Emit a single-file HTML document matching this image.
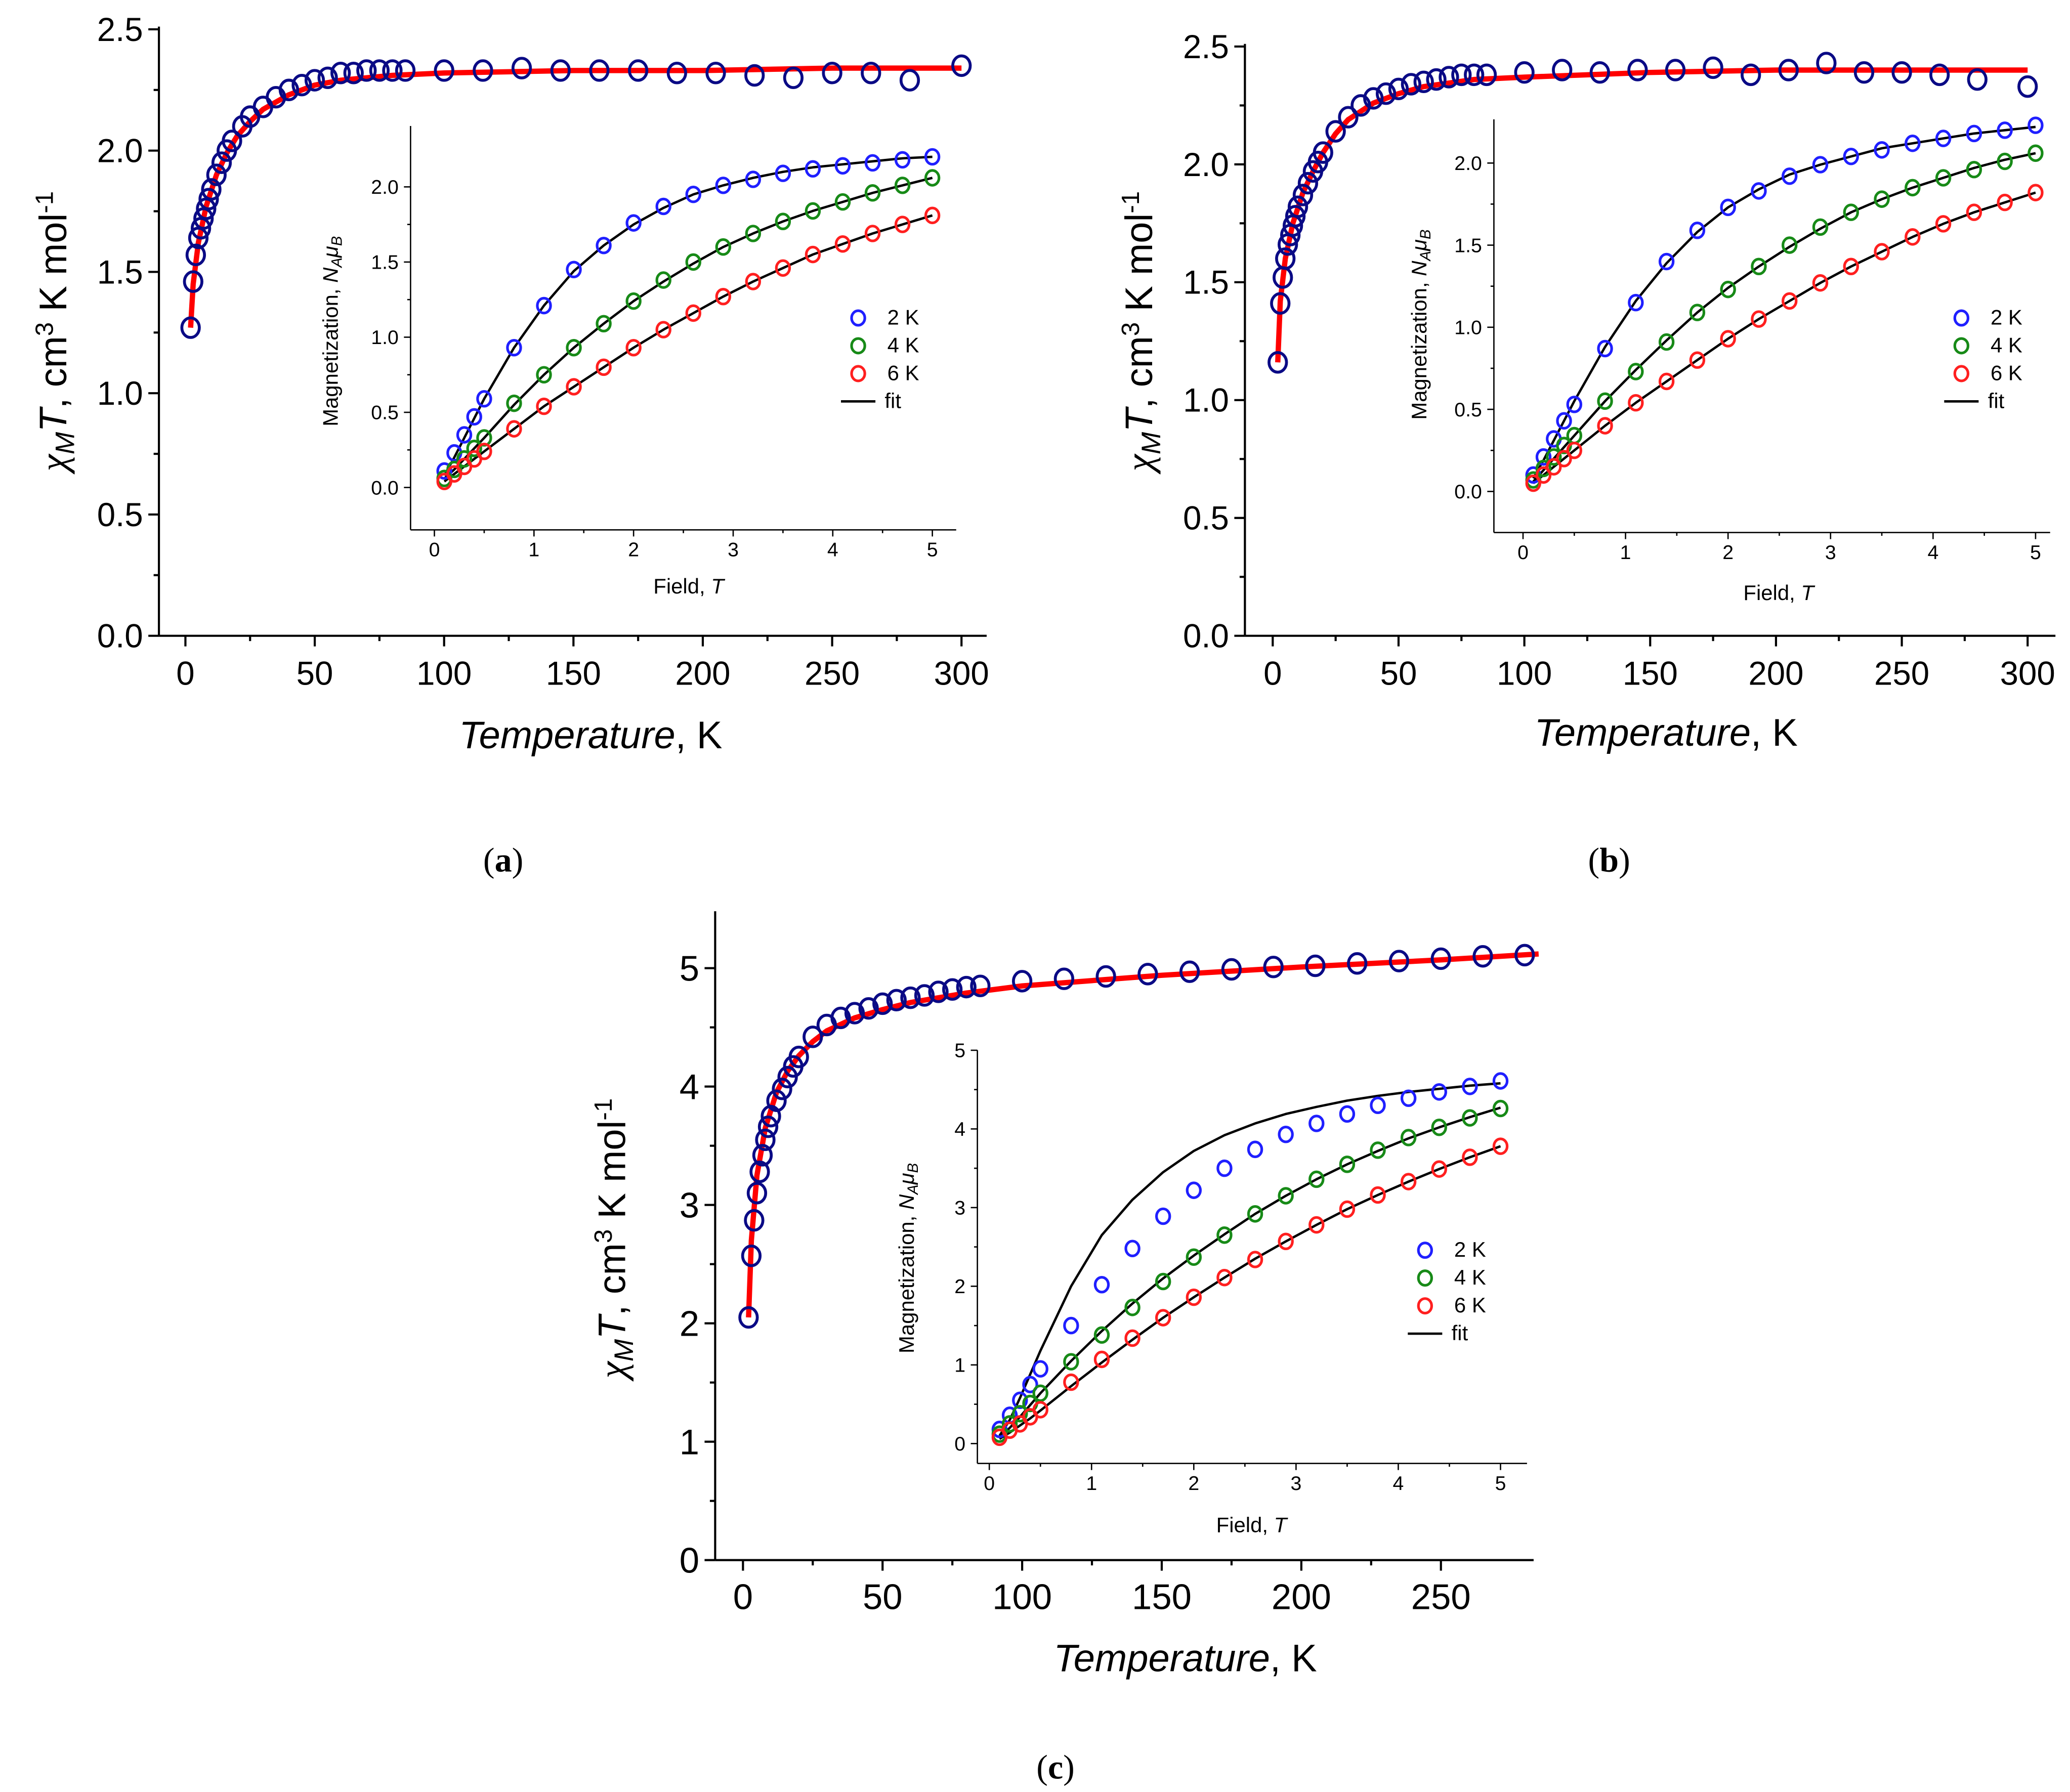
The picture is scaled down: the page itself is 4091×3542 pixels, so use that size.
<!DOCTYPE html>
<html><head><meta charset="utf-8"><style>html,body{margin:0;padding:0;background:#fff}svg{display:block}</style></head>
<body>
<svg id="fig" width="4091" height="3542" viewBox="0 0 1563 1353" xmlns="http://www.w3.org/2000/svg" font-family="Liberation Sans, sans-serif">
<rect width="1563" height="1353" fill="#fff"/>
<text x="380" y="658" font-family="Liberation Serif, serif" font-size="26" text-anchor="middle">(<tspan font-weight="bold">a</tspan>)</text>
<text x="1215" y="658" font-family="Liberation Serif, serif" font-size="26" text-anchor="middle">(<tspan font-weight="bold">b</tspan>)</text>
<text x="797" y="1343" font-family="Liberation Serif, serif" font-size="26" text-anchor="middle">(<tspan font-weight="bold">c</tspan>)</text>
</svg>
<script>
// ---- data ----
const tA=[2,3,4,5,6,7,8,9,10,12,14,16,18,22,25,30,35,40,45,50,55,60,65,70,75,80,85,100,115,130,145,160,175,190,205,220,235,250,265,280,300];
const chiA=[1.27,1.46,1.57,1.64,1.68,1.72,1.76,1.80,1.84,1.90,1.95,2.00,2.04,2.10,2.14,2.18,2.22,2.25,2.27,2.29,2.30,2.32,2.32,2.33,2.33,2.33,2.33,2.33,2.33,2.34,2.33,2.33,2.33,2.32,2.32,2.31,2.30,2.32,2.32,2.29,2.35];
const fitTA=[2,3,5,8,12,16,20,25,30,40,50,60,80,100,150,200,250,300];
const fitA=[1.27,1.45,1.62,1.77,1.90,1.99,2.06,2.12,2.17,2.23,2.27,2.29,2.31,2.32,2.33,2.33,2.34,2.34];
const tB=[2,3,4,5,6,7,8,9,10,12,14,16,18,20,25,30,35,40,45,50,55,60,65,70,75,80,85,100,115,130,145,160,175,190,205,220,235,250,265,280,300];
const chiB=[1.16,1.41,1.52,1.60,1.66,1.70,1.74,1.78,1.82,1.87,1.92,1.97,2.01,2.05,2.14,2.20,2.25,2.28,2.30,2.32,2.34,2.35,2.36,2.37,2.38,2.38,2.38,2.39,2.40,2.39,2.40,2.40,2.41,2.38,2.40,2.43,2.39,2.39,2.38,2.36,2.33];
const fitTB=[2,3,5,8,12,16,20,25,30,40,50,60,80,100,150,200,250,300];
const fitB=[1.16,1.42,1.60,1.75,1.88,1.97,2.05,2.13,2.19,2.26,2.30,2.33,2.36,2.37,2.39,2.40,2.40,2.40];
const tC=[2,3,4,5,6,7,8,9,10,12,14,16,18,20,25,30,35,40,45,50,55,60,65,70,75,80,85,100,115,130,145,160,175,190,205,220,235,250,265,280];
const chiC=[2.05,2.57,2.87,3.10,3.28,3.42,3.55,3.66,3.75,3.88,3.98,4.08,4.17,4.25,4.42,4.52,4.58,4.62,4.66,4.70,4.73,4.75,4.77,4.80,4.82,4.84,4.85,4.89,4.91,4.93,4.95,4.97,4.99,5.01,5.02,5.04,5.06,5.08,5.10,5.11];
const fitTC=[2,3,5,8,12,16,20,25,30,40,50,60,80,100,150,200,250,285];
const fitC=[2.05,2.70,3.25,3.65,3.95,4.13,4.26,4.38,4.47,4.58,4.65,4.71,4.79,4.85,4.94,5.01,5.07,5.12];
const fields=[0.1,0.2,0.3,0.4,0.5,0.8,1.1,1.4,1.7,2.0,2.3,2.6,2.9,3.2,3.5,3.8,4.1,4.4,4.7,5.0];
const mA2=[0.11,0.23,0.35,0.47,0.59,0.93,1.21,1.45,1.61,1.76,1.87,1.95,2.01,2.05,2.09,2.12,2.14,2.16,2.18,2.20];
const mA4=[0.06,0.12,0.19,0.26,0.33,0.56,0.75,0.93,1.09,1.24,1.38,1.50,1.60,1.69,1.77,1.84,1.90,1.96,2.01,2.06];
const mA6=[0.04,0.09,0.14,0.19,0.24,0.39,0.54,0.67,0.80,0.93,1.05,1.16,1.27,1.37,1.46,1.55,1.62,1.69,1.75,1.81];
const fA2=[0.08,0.20,0.33,0.46,0.59,0.93,1.21,1.44,1.61,1.75,1.86,1.95,2.01,2.06,2.10,2.13,2.15,2.17,2.19,2.20];
const fA4=[0.06,0.12,0.19,0.26,0.33,0.55,0.75,0.93,1.09,1.24,1.37,1.49,1.60,1.69,1.77,1.84,1.90,1.96,2.01,2.06];
const fA6=[0.04,0.09,0.14,0.19,0.24,0.39,0.54,0.67,0.80,0.93,1.05,1.16,1.27,1.37,1.46,1.55,1.62,1.69,1.75,1.81];
const mB2=[0.10,0.21,0.32,0.43,0.53,0.87,1.15,1.40,1.59,1.73,1.83,1.92,1.99,2.04,2.08,2.12,2.15,2.18,2.20,2.23];
const mB4=[0.07,0.14,0.21,0.28,0.34,0.55,0.73,0.91,1.09,1.23,1.37,1.50,1.61,1.70,1.78,1.85,1.91,1.96,2.01,2.06];
const mB6=[0.05,0.10,0.15,0.20,0.25,0.40,0.54,0.67,0.80,0.93,1.05,1.16,1.27,1.37,1.46,1.55,1.63,1.70,1.76,1.82];
const fB2=[0.08,0.19,0.31,0.43,0.55,0.88,1.16,1.39,1.58,1.73,1.84,1.93,1.99,2.04,2.09,2.12,2.15,2.18,2.20,2.22];
const fB4=[0.06,0.13,0.20,0.27,0.34,0.55,0.74,0.92,1.09,1.24,1.37,1.49,1.60,1.70,1.78,1.85,1.91,1.97,2.02,2.06];
const fB6=[0.05,0.10,0.15,0.20,0.25,0.40,0.54,0.67,0.80,0.93,1.05,1.16,1.27,1.37,1.46,1.55,1.63,1.70,1.76,1.82];
const mC2=[0.18,0.36,0.55,0.75,0.95,1.50,2.02,2.48,2.89,3.22,3.50,3.74,3.93,4.07,4.19,4.30,4.39,4.47,4.54,4.61];
const mC4=[0.12,0.25,0.38,0.51,0.64,1.04,1.38,1.73,2.06,2.37,2.65,2.92,3.15,3.36,3.55,3.73,3.89,4.02,4.14,4.26];
const mC6=[0.08,0.17,0.25,0.34,0.43,0.78,1.07,1.34,1.60,1.86,2.11,2.34,2.57,2.78,2.98,3.16,3.33,3.49,3.64,3.78];
const fC2=[0.10,0.30,0.58,0.88,1.18,2.00,2.65,3.10,3.45,3.72,3.92,4.07,4.19,4.28,4.36,4.42,4.47,4.51,4.55,4.58];
const fC4=[0.08,0.20,0.34,0.49,0.64,1.05,1.43,1.78,2.10,2.39,2.66,2.92,3.15,3.36,3.55,3.72,3.88,4.02,4.15,4.27];
const fC6=[0.06,0.14,0.23,0.32,0.42,0.73,1.03,1.32,1.60,1.86,2.11,2.35,2.57,2.78,2.98,3.16,3.33,3.49,3.64,3.78];
const ticksA=[0,0.5,1.0,1.5,2.0,2.5], ticksC=[0,1,2,3,4,5], ticksT=[0,50,100,150,200,250,300], ticksTC=[0,50,100,150,200,250];
const ticksMA=[0,0.5,1.0,1.5,2.0], ticksMC=[0,1,2,3,4,5], ticksF=[0,1,2,3,4,5];

const svg=document.getElementById('fig');const NS='http://www.w3.org/2000/svg';
function el(tag,attrs,parent){const e=document.createElementNS(NS,tag);for(const k in attrs)e.setAttribute(k,attrs[k]);(parent||svg).appendChild(e);return e;}
function txt(x,y,s,size,anchor,parent,name){const t=el('text',{x:x,y:y,'font-size':size,'text-anchor':anchor||'middle'},parent);t.textContent=s;

return t;}
function axes(o){
 const g=el('g',{});
 
 
 const X=v=>o.x0+(v-o.xmin)*o.xs, Y=v=>o.y0-(v-o.ymin)*o.ys;
 const lw=o.inset?1:1.6;
 el('line',{x1:o.L,y1:o.B,x2:o.R,y2:o.B,stroke:'#000','stroke-width':lw},g);
 el('line',{x1:o.L,y1:o.T,x2:o.L,y2:o.B,stroke:'#000','stroke-width':lw},g);
 const tl=o.inset?5:8;
 o.xt.forEach((v,i)=>{const x=X(v);el('line',{x1:x,y1:o.B,x2:x,y2:o.B+tl,stroke:'#000','stroke-width':lw},g);
  if(i<o.xt.length-1){const m=X(v+(o.xt[1]-o.xt[0])/2);if(m<o.R)el('line',{x1:m,y1:o.B,x2:m,y2:o.B+tl/2,stroke:'#000','stroke-width':lw},g);}
  txt(x,o.B+tl+(o.inset?15:29),o.xl?o.xl[i]:String(v),o.fs,'middle',g,'x-tick-label');});
 o.yt.forEach((v,i)=>{const y=Y(v);el('line',{x1:o.L-tl,y1:y,x2:o.L,y2:y,stroke:'#000','stroke-width':lw},g);
  if(i<o.yt.length-1){const m=Y(v+(o.yt[1]-o.yt[0])/2);el('line',{x1:o.L-tl/2,y1:m,x2:o.L,y2:m,stroke:'#000','stroke-width':lw},g);}
  txt(o.L-tl-4,y+o.fs*0.35,o.yl?o.yl[i]:String(v),o.fs,'end',g,'y-tick-label');});
 return {X,Y,g};
}
function line(ax,xs,ys,color,w,name){const d=xs.map((x,i)=>(i?'L':'M')+ax.X(x).toFixed(2)+','+ax.Y(ys[i]).toFixed(2)).join('');
 const p=el('path',{d:d,fill:'none',stroke:color,'stroke-width':w,'stroke-linejoin':'round'},ax.g);
 
 }
function pts(ax,xs,ys,color,r,w,name){xs.forEach((x,i)=>{const c=el('ellipse',{cx:ax.X(x),cy:ax.Y(ys[i]),rx:r,ry:r*1.12,fill:'none',stroke:color,'stroke-width':w},ax.g);
 
 });}
function mainTitles(ax,cx,bottom,ylx,yly,fs){
 const t=txt(cx,bottom,'',fs,'middle',ax.g,'x-axis-title');t.innerHTML='<tspan font-style="italic">Temperature</tspan>, K';
 const y=txt(0,0,'',fs,'middle',ax.g,'y-axis-title');y.setAttribute('transform','translate('+ylx+','+yly+') rotate(-90)');
 y.innerHTML='<tspan font-family="Liberation Serif, serif" font-style="italic">χ</tspan><tspan font-style="italic" font-size="'+fs*0.7+'" dy="6">M</tspan><tspan font-style="italic" dy="-6">T</tspan>, cm<tspan font-size="'+fs*0.65+'" dy="-10">3</tspan><tspan dy="10"> K mol</tspan><tspan font-size="'+fs*0.65+'" dy="-10">-1</tspan>';
}
function insetTitles(ax,cx,by,lx,ly,fs){
 const t=txt(cx,by,'',fs,'middle',ax.g,'inset-x-axis-title');t.innerHTML='Field, <tspan font-style="italic">T</tspan>';
 const y=txt(0,0,'',fs,'middle',ax.g,'inset-y-axis-title');y.setAttribute('transform','translate('+lx+','+ly+') rotate(-90)');
 y.innerHTML='Magnetization, <tspan font-style="italic">N</tspan><tspan font-style="italic" font-size="'+fs*0.7+'" dy="3">A</tspan><tspan font-style="italic" dy="-3">μ</tspan><tspan font-style="italic" font-size="'+fs*0.7+'" dy="3">B</tspan>';
}
function legend(ax,x,y,fs){
 const items=[['2 K','#1f1fff'],['4 K','#178a17'],['6 K','#ff1f1f']];
 items.forEach((it,i)=>{const c=el('ellipse',{cx:x,cy:y+i*21,rx:5,ry:5.5,fill:'none',stroke:it[1],'stroke-width':2},ax.g);
  
  
  txt(x+22,y+i*21+5,it[0],fs,'start',ax.g,'legend-entry');});
 el('line',{x1:x-13,y1:y+63,x2:x+13,y2:y+63,stroke:'#000','stroke-width':1.8},ax.g);
 txt(x+20,y+68,'fit',fs,'start',ax.g,'legend-entry');
}
function panel(m,ins,T,C,fT,fC,mm,ff,leg,tt){
 const a=axes(m);
 line(a,fT,fC,'#ff0000',4,'fit-line-chiT');
 pts(a,T,C,'#0a0a85',6.6,2.2,'data-point-chiT');
 mainTitles(a,tt[0],tt[1],tt[2],tt[3],29);
 const b=axes(ins);
 const cols=['#1f1fff','#178a17','#ff1f1f'];
 ff.forEach(f=>line(b,fields,f,'#000',1.8,'fit-line-M'));
 mm.forEach((d,i)=>pts(b,fields,d,cols[i],5,2,'data-point-M-'+(2+2*i)+'K'));
 insetTitles(b,tt[4],tt[5],tt[6],tt[7],16);
 legend(b,leg[0],leg[1],16);
}
panel({name:'main-chart-a',L:120,R:745,T:20,B:480,x0:140,xmin:0,xs:586/300,y0:480,ymin:0,ys:458/2.5,xt:ticksT,yt:ticksA,yl:ticksA.map(v=>v.toFixed(1)),fs:25},
 {name:'inset-chart-a',inset:true,L:310,R:722,T:95,B:400,x0:328,xmin:0,xs:75.2,y0:368,ymin:0,ys:113.5,xt:ticksF,yt:ticksMA,yl:ticksMA.map(v=>v.toFixed(1)),fs:15},
 tA,chiA,fitTA,fitA,[mA2,mA4,mA6],[fA2,fA4,fA6],[648,240],[446,565,50,250,520,448,255,250]);
panel({name:'main-chart-b',L:940,R:1552,T:33,B:480,x0:961,xmin:0,xs:570/300,y0:480,ymin:0,ys:445/2.5,xt:ticksT,yt:ticksA,yl:ticksA.map(v=>v.toFixed(1)),fs:25},
 {name:'inset-chart-b',inset:true,L:1128,R:1548,T:90,B:402,x0:1150,xmin:0,xs:77.4,y0:371,ymin:0,ys:124,xt:ticksF,yt:ticksMA,yl:ticksMA.map(v=>v.toFixed(1)),fs:15},
 tB,chiB,fitTB,fitB,[mB2,mB4,mB6],[fB2,fB4,fB6],[1481,240],[1258,563,870,250,1343,453,1077,245]);
panel({name:'main-chart-c',L:540,R:1158,T:688,B:1178,x0:561,xmin:0,xs:527/250,y0:1178,ymin:0,ys:447/5,xt:ticksTC,yt:ticksC,fs:27},
 {name:'inset-chart-c',inset:true,L:738,R:1153,T:793,B:1105,x0:747,xmin:0,xs:77.2,y0:1090,ymin:0,ys:59.4,xt:ticksF,yt:ticksMC,fs:15},
 tC,chiC,fitTC,fitC,[mC2,mC4,mC6],[fC2,fC4,fC6],[1076,944],[895,1262,472,935,945,1157,690,950]);
</script>
</body></html>
